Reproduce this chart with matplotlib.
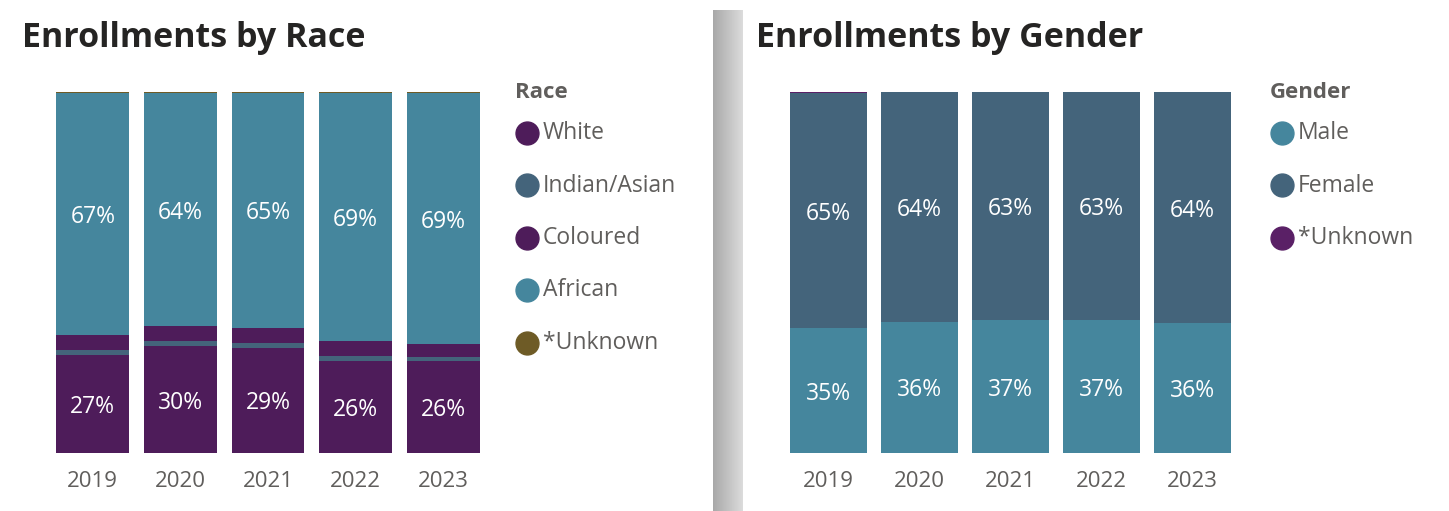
import matplotlib.pyplot as plt
import numpy as np
import matplotlib

matplotlib.rcParams['font.family'] = ['Open Sans', 'DejaVu Sans']

W, H = 1449, 511

# data (percent)
years = ['2019', '2020', '2021', '2022', '2023']
race_names = ['White', 'Indian/Asian', 'Coloured', 'African', '*Unknown']
white = [27.1, 29.6, 29.1, 25.5, 25.5]
indian = [1.4, 1.4, 1.4, 1.4, 1.1]
coloured = [4.2, 4.2, 4.2, 4.2, 3.6]
african = [66.9, 64.4, 65.1, 68.5, 69.4]
race_unknown = [0.4, 0.4, 0.2, 0.4, 0.4]
white_labels = ['27%', '30%', '29%', '26%', '26%']
african_labels = ['67%', '64%', '65%', '69%', '69%']

gender_names = ['Male', 'Female', '*Unknown']
male = [34.6, 36.3, 36.8, 36.8, 35.9]
female = [65.1, 63.7, 63.2, 63.2, 64.1]
gender_unknown = [0.3, 0.0, 0.0, 0.0, 0.0]
male_labels = ['35%', '36%', '37%', '37%', '36%']
female_labels = ['65%', '64%', '63%', '63%', '64%']

PURPLE = '#4E1C5A'
SLATE = '#44647B'
TEAL = '#45869D'
OLIVE = '#6E5B26'
PURPLE2 = '#5A2066'
GREY = '#605E5C'

race_colors = [PURPLE, SLATE, PURPLE, TEAL, OLIVE]
gender_colors = [TEAL, SLATE, PURPLE2]


def px_axes(fig, x0, y0, x1, y1):
    # pixel box (top-left origin) -> figure axes
    return fig.add_axes([x0 / W, 1 - y1 / H, (x1 - x0) / W, (y1 - y0) / H])


def stacked(ax, series, colors, width):
    x = np.arange(len(years))
    bottom = np.zeros(len(years))
    mids = []
    for vals, c in zip(series, colors):
        vals = np.array(vals)
        ax.bar(x, vals, width, bottom=bottom, color=c, edgecolor='none')
        mids.append(bottom + vals / 2)
        bottom = bottom + vals
    ax.set_xlim(-0.5, len(years) - 0.5)
    ax.set_ylim(0, 100)
    ax.set_xticks(x)
    ax.set_xticklabels(years, fontsize=16, color=GREY)
    ax.tick_params(axis='x', length=0, pad=13)
    ax.set_yticks([])
    for s in ax.spines.values():
        s.set_visible(False)
    return x, mids


def label(ax, x, y, s):
    ax.annotate(s, (x, y), xytext=(0, -3), textcoords='offset pixels',
                ha='center', va='center', color='white', fontsize=16.5)


fig = plt.figure(figsize=(W / 100, H / 100), dpi=100)

# left panel: race
ax1 = px_axes(fig, 49, 92, 487, 453)
x, mids = stacked(ax1, [white, indian, coloured, african, race_unknown], race_colors, 0.83)
for i in range(len(years)):
    label(ax1, x[i], mids[0][i], white_labels[i])
    label(ax1, x[i], mids[3][i], african_labels[i])

# right panel: gender
ax2 = px_axes(fig, 783, 92, 1238, 453)
x, mids = stacked(ax2, [male, female, gender_unknown], gender_colors, 0.85)
for i in range(len(years)):
    label(ax2, x[i], mids[0][i], male_labels[i])
    label(ax2, x[i], mids[1][i], female_labels[i])

# titles
fig.text(22 / W, 1 - 38 / H, 'Enrollments by Race', fontsize=24.5, fontweight='bold', color='#252423', va='center')
fig.text(756 / W, 1 - 38 / H, 'Enrollments by Gender', fontsize=24.5, fontweight='bold', color='#252423', va='center')


def legend(x_circle, title, names, colors):
    lax = fig.add_axes([0, 0, 1, 1], facecolor='none')
    lax.set_xlim(0, W)
    lax.set_ylim(H, 0)
    lax.axis('off')
    lax.text(x_circle - 12, 92, title, fontsize=16, fontweight='bold', color=GREY, va='center')
    for k, (n, c) in enumerate(zip(names, colors)):
        y = 133 + k * 52.5
        lax.plot(x_circle, y, 'o', ms=16.5, color=c)
        lax.text(x_circle + 16, y, n, fontsize=16.5, color=GREY, va='center')


legend(527, 'Race', race_names, race_colors)
legend(1282, 'Gender', gender_names, gender_colors)

# separator with gradient
sep = fig.add_axes([713 / W, 0, 30 / W, 1 - 10 / H])
grad = np.linspace(0.66, 0.86, 64)[None, :]
sep.imshow(np.repeat(grad, 2, axis=0), cmap='gray', vmin=0, vmax=1, aspect='auto')
sep.axis('off')

fig.savefig('out.png', dpi=100)
